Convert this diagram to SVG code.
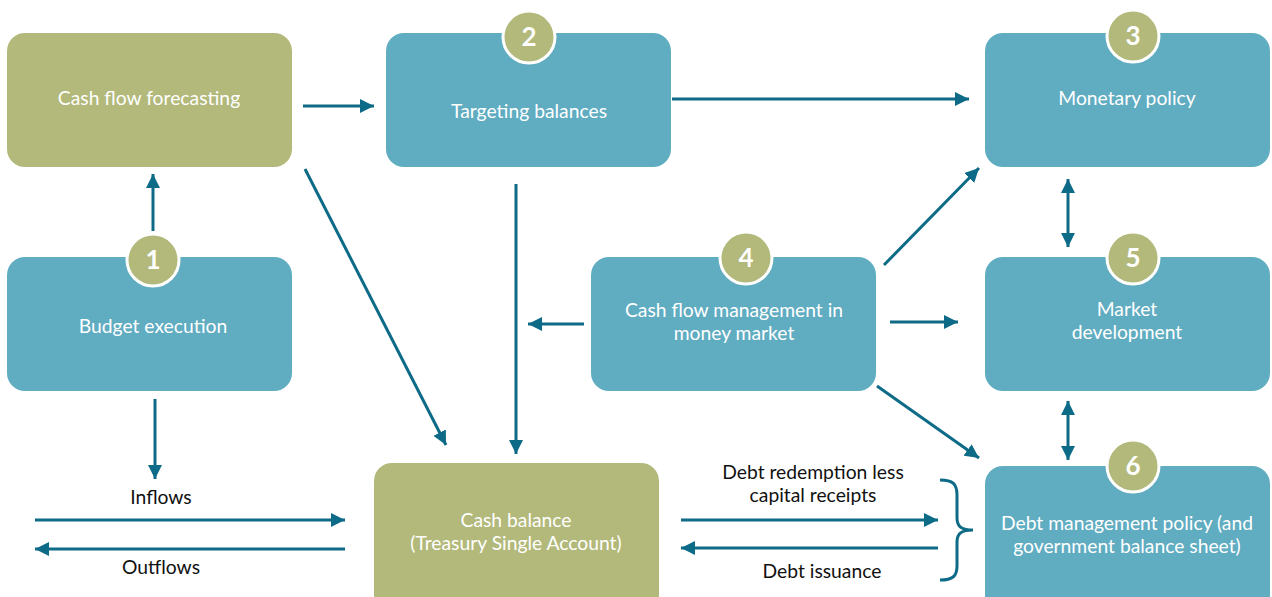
<svg xmlns="http://www.w3.org/2000/svg" width="1272" height="597" viewBox="0 0 1272 597">
  <style>
    .teal { fill: #60ACC1; }
    .olive { fill: #B2B97A; }
    .badge { fill: #B2B97A; stroke: #FFFFFF; stroke-width: 3; }
    .num { font-family: "Lato", "Open Sans", sans-serif; font-weight: bold; font-size: 26px; fill: #FFFFFF; text-anchor: middle; }
    .lbl { font-family: "Lato", "Open Sans", sans-serif; font-size: 19.3px; fill: #FFFFFF; text-anchor: middle; }
    .cap { font-family: "Lato", "Open Sans", sans-serif; font-size: 19.3px; fill: #111111; text-anchor: middle; }
    .link { stroke: #0E6B87; stroke-width: 3; fill: none; }
  </style>
  <defs>
    <marker id="head" markerUnits="userSpaceOnUse" markerWidth="16" markerHeight="14" refX="14" refY="7" orient="auto-start-reverse">
      <path d="M0,0 L14,7 L0,14 Z" fill="#0E6B87"/>
    </marker>
  </defs>

  <!-- connectors -->
  <g id="connectors">
    <line class="link" x1="303" y1="106" x2="374" y2="106" marker-end="url(#head)"/>
    <line class="link" x1="672" y1="99" x2="969" y2="99" marker-end="url(#head)"/>
    <line class="link" x1="153" y1="231" x2="153" y2="174" marker-end="url(#head)"/>
    <line class="link" x1="305" y1="169" x2="446" y2="445" marker-end="url(#head)"/>
    <line class="link" x1="516" y1="184" x2="516" y2="454" marker-end="url(#head)"/>
    <line class="link" x1="584" y1="324" x2="528" y2="324" marker-end="url(#head)"/>
    <line class="link" x1="884" y1="265" x2="979" y2="168" marker-end="url(#head)"/>
    <line class="link" x1="890" y1="322" x2="958" y2="322" marker-end="url(#head)"/>
    <line class="link" x1="877" y1="386" x2="979" y2="458" marker-end="url(#head)"/>
    <line class="link" x1="1068" y1="179" x2="1068" y2="247" marker-start="url(#head)" marker-end="url(#head)"/>
    <line class="link" x1="1068" y1="401" x2="1068" y2="460" marker-start="url(#head)" marker-end="url(#head)"/>
    <line class="link" x1="155" y1="399" x2="155" y2="479" marker-end="url(#head)"/>
    <line class="link" x1="35" y1="520" x2="345" y2="520" marker-end="url(#head)"/>
    <line class="link" x1="345" y1="549" x2="35" y2="549" marker-end="url(#head)"/>
    <line class="link" x1="681" y1="520" x2="938" y2="520" marker-end="url(#head)"/>
    <line class="link" x1="938" y1="548" x2="681" y2="548" marker-end="url(#head)"/>
    <!-- brace grouping the two debt flows -->
    <path class="link" d="M940,480 C953,480 957,484 957,495 L957,518 C957,527 962,530 973,530 C962,530 957,533 957,542 L957,566 C957,576 953,580 940,580"/>
  </g>

  <!-- flow captions -->
  <text class="cap" x="161" y="504">Inflows</text>
  <text class="cap" x="161" y="574">Outflows</text>
  <text class="cap" x="813" y="479">Debt redemption less</text>
  <text class="cap" x="813" y="502">capital receipts</text>
  <text class="cap" x="822" y="578">Debt issuance</text>

  <g id="forecasting">
    <rect class="olive" x="7" y="33" width="285" height="134" rx="18"/>
    <text class="lbl" x="149" y="105">Cash flow forecasting</text>
  </g>

  <g id="targeting">
    <rect class="teal" x="386" y="33" width="285" height="134" rx="18"/>
    <text class="lbl" x="529" y="118">Targeting balances</text>
    <circle class="badge" cx="529" cy="37" r="26"/>
    <text class="num" x="529" y="46">2</text>
  </g>

  <g id="monetary">
    <rect class="teal" x="985" y="33" width="285" height="134" rx="18"/>
    <text class="lbl" x="1127" y="105">Monetary policy</text>
    <circle class="badge" cx="1133" cy="36" r="26"/>
    <text class="num" x="1133" y="45">3</text>
  </g>

  <g id="budget">
    <rect class="teal" x="7" y="257" width="285" height="134" rx="18"/>
    <text class="lbl" x="153" y="333">Budget execution</text>
    <circle class="badge" cx="153" cy="260" r="26"/>
    <text class="num" x="153" y="269">1</text>
  </g>

  <g id="money-market">
    <rect class="teal" x="591" y="257" width="285" height="134" rx="18"/>
    <text class="lbl" x="734" y="317">Cash flow management in</text>
    <text class="lbl" x="734" y="340">money market</text>
    <circle class="badge" cx="746" cy="258" r="26"/>
    <text class="num" x="746" y="267">4</text>
  </g>

  <g id="market-development">
    <rect class="teal" x="985" y="257" width="285" height="134" rx="18"/>
    <text class="lbl" x="1127" y="316">Market</text>
    <text class="lbl" x="1127" y="339">development</text>
    <circle class="badge" cx="1133" cy="258" r="26"/>
    <text class="num" x="1133" y="267">5</text>
  </g>

  <g id="cash-balance">
    <rect class="olive" x="374" y="463" width="285" height="150" rx="18"/>
    <text class="lbl" x="516" y="527">Cash balance</text>
    <text class="lbl" x="516" y="550">(Treasury Single Account)</text>
  </g>

  <g id="debt-management">
    <rect class="teal" x="985" y="466" width="285" height="150" rx="18"/>
    <text class="lbl" x="1127" y="530">Debt management policy (and</text>
    <text class="lbl" x="1127" y="553">government balance sheet)</text>
    <circle class="badge" cx="1133" cy="466" r="26"/>
    <text class="num" x="1133" y="475">6</text>
  </g>
</svg>
